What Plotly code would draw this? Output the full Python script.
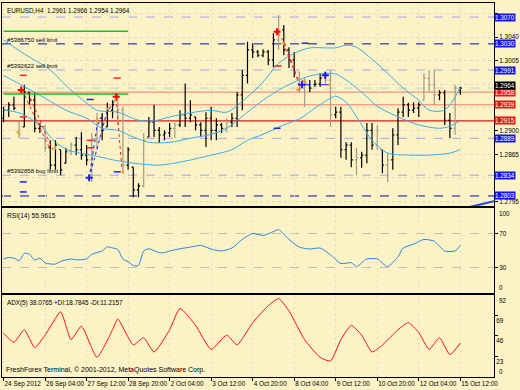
import plotly.graph_objects as go

# ---------------- data ----------------
chart_title = "EURUSD,H4  1.2961 1.2966 1.2954 1.2964"
copyright_text = "FreshForex Terminal, \u00a9 2001-2012, MetaQuotes Software Corp."

bar_index = list(range(89))
bar_open = [1.2919, 1.2931, 1.2939, 1.2913, 1.2906, 1.2958, 1.2946, 1.2904, 1.2907, 1.2875,
            1.2849, 1.2872, 1.2852, 1.2869, 1.2879, 1.2872, 1.2864, 1.2857, 1.2886, 1.2919,
            1.2906, 1.2931, 1.2939, 1.2931, 1.2849, 1.2846, 1.2812, 1.2818, 1.2891, 1.2913,
            1.2901, 1.2894, 1.2897, 1.2904, 1.2909, 1.2924, 1.2919, 1.2921, 1.2909, 1.2901,
            1.2919, 1.2901, 1.2909, 1.2904, 1.2913, 1.2919, 1.2954, 1.2983, 1.3021, 1.3018,
            1.3013, 1.3018, 1.3006, 1.3036, 1.3051, 1.3021, 1.3006, 1.2988, 1.2964, 1.2969,
            1.2969, 1.2970, 1.2979, 1.2976, 1.2924, 1.2928, 1.2872, 1.2879, 1.2857, 1.2860,
            1.2864, 1.2901, 1.2879, 1.2872, 1.2849, 1.2857, 1.2894, 1.2928, 1.2939, 1.2931,
            1.2934, 1.2946, 1.2979, 1.2969, 1.2954, 1.2957, 1.2916, 1.2904, 1.2961]
bar_high = [1.2936, 1.2943, 1.2951, 1.2916, 1.2969, 1.2958, 1.2958, 1.2912, 1.2909, 1.2886,
            1.2886, 1.2872, 1.2875, 1.2883, 1.2891, 1.2898, 1.2879, 1.2897, 1.2927, 1.2927,
            1.2942, 1.2946, 1.2957, 1.2936, 1.2876, 1.2846, 1.2822, 1.2897, 1.2921, 1.2939,
            1.2906, 1.2901, 1.2912, 1.2913, 1.2931, 1.2971, 1.2946, 1.2921, 1.2913, 1.2928,
            1.2936, 1.2919, 1.2912, 1.2919, 1.2927, 1.2958, 1.2991, 1.3033, 1.3031, 1.3021,
            1.3022, 1.3021, 1.3046, 1.3073, 1.3058, 1.3025, 1.3018, 1.2988, 1.2979, 1.2976,
            1.2976, 1.2986, 1.2988, 1.2991, 1.2936, 1.2936, 1.2883, 1.2883, 1.2875, 1.2869,
            1.2912, 1.2912, 1.2909, 1.2872, 1.2867, 1.2904, 1.2934, 1.2951, 1.2942, 1.2943,
            1.2943, 1.2986, 1.2991, 1.2991, 1.2961, 1.2961, 1.2927, 1.2969, 1.2966]
bar_low = [1.2913, 1.2921, 1.2931, 1.2889, 1.2906, 1.2939, 1.2898, 1.2897, 1.2869, 1.2842,
           1.2842, 1.2834, 1.2852, 1.2864, 1.2864, 1.2857, 1.2849, 1.2824, 1.2872, 1.2886,
           1.2906, 1.2919, 1.2909, 1.2837, 1.2842, 1.2801, 1.2801, 1.2816, 1.2891, 1.2891,
           1.2882, 1.2886, 1.2891, 1.2889, 1.2906, 1.2906, 1.2913, 1.2901, 1.2891, 1.2876,
           1.2886, 1.2886, 1.2897, 1.2898, 1.2906, 1.2906, 1.2931, 1.2971, 1.3009, 1.3010,
           1.3010, 1.2998, 1.2995, 1.3021, 1.3013, 1.2994, 1.2980, 1.2957, 1.2936, 1.2958,
           1.2966, 1.2966, 1.2971, 1.2906, 1.2919, 1.2860, 1.2857, 1.2846, 1.2834, 1.2845,
           1.2852, 1.2872, 1.2872, 1.2837, 1.2824, 1.2842, 1.2879, 1.2921, 1.2921, 1.2927,
           1.2921, 1.2946, 1.2958, 1.2939, 1.2946, 1.2909, 1.2889, 1.2894, 1.2954]
bar_close = [1.2931, 1.2939, 1.2934, 1.2895, 1.2958, 1.2946, 1.2904, 1.2907, 1.2875, 1.2849,
             1.2879, 1.2842, 1.2869, 1.2879, 1.2872, 1.2864, 1.2857, 1.2886, 1.2919, 1.2901,
             1.2931, 1.2939, 1.2931, 1.2849, 1.2872, 1.2812, 1.2818, 1.2886, 1.2913, 1.2901,
             1.2894, 1.2897, 1.2904, 1.2909, 1.2924, 1.2919, 1.2924, 1.2909, 1.2901, 1.2919,
             1.2901, 1.2909, 1.2904, 1.2913, 1.2919, 1.2954, 1.2983, 1.3021, 1.3018, 1.3013,
             1.3018, 1.3006, 1.3036, 1.3051, 1.3021, 1.3006, 1.2988, 1.2964, 1.2969, 1.2964,
             1.2970, 1.2979, 1.2976, 1.2924, 1.2928, 1.2872, 1.2879, 1.2857, 1.2860, 1.2864,
             1.2901, 1.2879, 1.2901, 1.2849, 1.2857, 1.2894, 1.2928, 1.2939, 1.2931, 1.2934,
             1.2939, 1.2979, 1.2969, 1.2954, 1.2957, 1.2916, 1.2904, 1.2964, 1.2964]
grey_bars = [3, 8, 13, 17, 18, 22, 23, 27, 33, 43, 53, 57, 58, 62, 63, 68, 72, 74, 81, 82, 83, 87]

time_tick_bars = [0, 8, 16, 24, 32, 40, 48, 56, 64, 72, 80, 88]
time_tick_labels = ["24 Sep 2012", "26 Sep 04:00", "27 Sep 12:00", "28 Sep 20:00", "2 Oct 04:00",
                    "3 Oct 12:00", "4 Oct 20:00", "8 Oct 04:00", "9 Oct 12:00", "10 Oct 20:00",
                    "12 Oct 04:00", "15 Oct 12:00"]
price_ticks = [1.3075, 1.3040, 1.3005, 1.2970, 1.2935, 1.2900, 1.2865, 1.2830, 1.2795]
price_tick_labels = ["", "1.3040", "1.3005", "", "", "1.2900", "1.2865", "", "1.2795"]

# moving-average style lines (cyan)
ma_a_bars = [0, 4, 9, 12, 15, 18, 22, 26, 29, 32, 36, 40, 43, 47, 50, 53, 56, 59, 62, 64, 66, 68,
             71, 74, 77, 80, 82, 85, 88]
ma_a_vals = [1.3036, 1.3015, 1.2991, 1.2968, 1.2948, 1.2931, 1.2928, 1.2916, 1.2915, 1.2921,
             1.2927, 1.2931, 1.2928, 1.2951, 1.2973, 1.3001, 1.3016, 1.3024, 1.3024, 1.3024,
             1.3028, 1.3025, 1.3007, 1.2986, 1.2964, 1.2946, 1.2931, 1.2931, 1.2964]
ma_b_bars = [0, 4, 8, 12, 16, 19, 22, 25, 28, 32, 36, 40, 43, 47, 50, 53, 56, 59, 62, 64, 66, 69,
             72, 76, 80, 84, 86, 88]
ma_b_vals = [1.2983, 1.2966, 1.2949, 1.2931, 1.2919, 1.2904, 1.2901, 1.2891, 1.2883, 1.2883,
             1.2889, 1.2895, 1.2904, 1.2928, 1.2946, 1.2961, 1.2973, 1.2982, 1.2986, 1.2985,
             1.2976, 1.2958, 1.2937, 1.2921, 1.2909, 1.2904, 1.2907, 1.2915]
ma_c_bars = [0, 3, 7, 10, 13, 17, 21, 25, 30, 35, 40, 44, 47, 50, 54, 57, 60, 63, 64, 66, 69, 71,
             74, 78, 82, 86, 88]
ma_c_vals = [1.2931, 1.2927, 1.2909, 1.2883, 1.2870, 1.2864, 1.2857, 1.2852, 1.2849, 1.2855,
             1.2864, 1.2872, 1.2886, 1.2895, 1.2909, 1.2918, 1.2934, 1.2949, 1.2952, 1.2943,
             1.2909, 1.2886, 1.2867, 1.2864, 1.2864, 1.2867, 1.2872]

# order / level lines
lavender_levels = [1.3070, 1.2991, 1.2889, 1.2834]
navy_levels = [1.3030, 1.2803]
salmon_levels = [1.2958, 1.2939]
red_levels = [1.2915]
bid_level = 1.2964
green_levels = [1.3049, 1.2955]
green_span = [0, 24]
blue_box_levels = [1.3070, 1.3030, 1.2991, 1.2889, 1.2834, 1.2803]
red_box_levels = [1.2958, 1.2939, 1.2915]
order_labels = ["#5386750 sell limit", "#5392622 sell limit", "#5392858 buy limit"]
order_label_levels = [1.3030, 1.2991, 1.2834]

trend_x = [88.9, 94.5]
trend_y = [1.2785, 1.2795]

# trade arrows
sell_path_x = [3.6, 9.0, None, 4.7, 9.5, None, 21.7, 22.8, None, 52.9, 54.2, 55.2, 56.5, 57.1, None,
               53.9, 56.5, 58.5]
sell_path_y = [1.2961, 1.2872, None, 1.2957, 1.2872, None, 1.2949, 1.2842, None, 1.3046, 1.3031,
               1.3010, 1.2980, 1.2961, None, 1.3031, 1.2980, 1.2971]
buy_path_x = [16.5, 18.0, 19.0, None, 16.5, 19.9, 21.5]
buy_path_y = [1.2830, 1.2906, 1.2924, None, 1.2830, 1.2928, 1.2946]
buy_dash_x = [57.5, 63.0]
buy_dash_y = [1.2969, 1.2969]
sell_mark_x = [3.4, 21.7, 52.7]
sell_mark_y = [1.2961, 1.2951, 1.3048]
buy_mark_x = [16.5, 57.5, 62.0]
buy_mark_y = [1.2830, 1.2969, 1.2983]
close_mark_x = [2.8, 9.9, 18.0, 20.1, 21.5, 23.0, 53.9, 56.7, 58.1, 62.9]
close_mark_y = [1.2898, 1.2875, 1.2916, 1.2933, 1.2946, 1.2839, 1.3031, 1.2961, 1.2973, 1.2969]
red_dash_x = [3.8, 21.9, 16.7, 16.7, 3.8, 52.9]
red_dash_y = [1.2983, 1.2979, 1.2886, 1.2875, 1.2921, 1.2997]
blue_dash_x = [16.7, 3.8, 3.8, 58.1, 52.7, 21.9]
blue_dash_y = [1.2947, 1.2824, 1.2809, 1.3031, 1.2904, 1.2839]

# RSI(14)
rsi_label = "RSI(14) 55.9615"
rsi_bars = [0, 1, 2, 3, 4, 5, 6, 7, 8, 9, 10, 11, 13, 14, 16, 17, 19, 20, 21, 22, 23, 24, 25, 26,
            27, 28, 30, 31, 32, 34, 36, 38, 40, 42, 44, 46, 48, 50, 52, 53, 55, 57, 59, 61, 63,
            65, 67, 68, 70, 72, 74, 76, 77, 79, 81, 83, 85, 87, 88]
rsi_vals = [40, 41.8, 41, 38, 46.8, 45.6, 38.8, 41, 35.3, 34.2, 34, 37.2, 40, 39, 40, 45.6, 49.4,
            54.3, 53, 51.4, 40, 36.9, 32.3, 32.3, 49.4, 52, 47.5, 47.5, 49.4, 52, 54, 56, 51.7,
            49.4, 52.9, 63, 70, 67.7, 72.3, 74.6, 63, 54, 51.7, 52.9, 44.9, 34.6, 35.7, 31, 40,
            40, 31, 42.6, 52.9, 57.4, 63, 60.9, 49.4, 49.4, 55.96]
rsi_levels = [70, 30]

# ADX(5)
adx_label = "ADX(5) 38.0765 +DI:18.7845 -DI:11.2157"
adx_bars = [0, 2, 4, 6, 8, 11, 13, 15, 18, 21, 22, 25, 27, 29, 32, 34, 37, 40, 43, 45, 48, 51, 53,
            55, 58, 61, 63, 65, 67, 69, 71, 73, 76, 78, 80, 82, 84, 86, 88]
adx_vals = [49, 39, 53, 33, 47, 73, 42, 57, 22, 53, 65, 36, 44, 28, 53, 77, 58, 31, 47, 36, 61, 80,
            88, 74, 42, 22, 18, 42, 58, 47, 28, 36, 53, 61, 50, 31, 44, 25, 38.08]
adx_ticks = [23, 46, 69]

# ---------------- styling ----------------
BG = "#fbf3c6"
FONT = "Liberation Sans, Arial, sans-serif"
CYAN = "#3aaee8"

fig = go.Figure()

black_idx = [i for i in bar_index if i not in grey_bars]


def pick(arr, idx):
    return [arr[i] for i in idx]


for idx, col in ((black_idx, "#000000"), (grey_bars, "#a09c86")):
    fig.add_trace(go.Ohlc(
        x=idx, open=pick(bar_open, idx), high=pick(bar_high, idx),
        low=pick(bar_low, idx), close=pick(bar_close, idx),
        increasing=dict(line=dict(color=col, width=1.2)),
        decreasing=dict(line=dict(color=col, width=1.2)),
        tickwidth=0.32, xaxis="x", yaxis="y", hoverinfo="skip", showlegend=False))

for bx, by in ((ma_a_bars, ma_a_vals), (ma_b_bars, ma_b_vals), (ma_c_bars, ma_c_vals)):
    fig.add_trace(go.Scatter(x=bx, y=by, mode="lines",
                             line=dict(color=CYAN, width=1, shape="spline", smoothing=0.8),
                             xaxis="x", yaxis="y", hoverinfo="skip", showlegend=False))

for lvl in green_levels:
    fig.add_trace(go.Scatter(x=green_span, y=[lvl, lvl], mode="lines", line=dict(color="#22bb22", width=1.5),
                             xaxis="x", yaxis="y", hoverinfo="skip", showlegend=False))

fig.add_trace(go.Scatter(x=sell_path_x, y=sell_path_y, mode="lines", line=dict(color="#ff2020", width=1, dash="dot"),
                         xaxis="x", yaxis="y", hoverinfo="skip", showlegend=False))
fig.add_trace(go.Scatter(x=buy_path_x, y=buy_path_y, mode="lines", line=dict(color="#1a1aee", width=1, dash="dot"),
                         xaxis="x", yaxis="y", hoverinfo="skip", showlegend=False))
fig.add_trace(go.Scatter(x=buy_dash_x, y=buy_dash_y, mode="lines", line=dict(color="#1a1aee", width=1, dash="dash"),
                         xaxis="x", yaxis="y", hoverinfo="skip", showlegend=False))
fig.add_trace(go.Scatter(x=trend_x, y=trend_y, mode="lines", line=dict(color="#2244dd", width=2),
                         xaxis="x", yaxis="y", hoverinfo="skip", showlegend=False))
fig.add_trace(go.Scatter(x=sell_mark_x, y=sell_mark_y, mode="markers",
                         marker=dict(symbol="cross-thin", size=5, line=dict(color="#ff0000", width=2)),
                         xaxis="x", yaxis="y", hoverinfo="skip", showlegend=False))
fig.add_trace(go.Scatter(x=buy_mark_x, y=buy_mark_y, mode="markers",
                         marker=dict(symbol="cross-thin", size=5, line=dict(color="#1a1aee", width=2)),
                         xaxis="x", yaxis="y", hoverinfo="skip", showlegend=False))
fig.add_trace(go.Scatter(x=close_mark_x, y=close_mark_y, mode="markers",
                         marker=dict(symbol="triangle-left", size=4, color="#e8a020"),
                         xaxis="x", yaxis="y", hoverinfo="skip", showlegend=False))
fig.add_trace(go.Scatter(x=red_dash_x, y=red_dash_y, mode="markers",
                         marker=dict(symbol="line-ew", size=5, line=dict(color="#ff2020", width=1.5)),
                         xaxis="x", yaxis="y", hoverinfo="skip", showlegend=False))
fig.add_trace(go.Scatter(x=blue_dash_x, y=blue_dash_y, mode="markers",
                         marker=dict(symbol="line-ew", size=5, line=dict(color="#2020ee", width=1.5)),
                         xaxis="x", yaxis="y", hoverinfo="skip", showlegend=False))

fig.add_trace(go.Scatter(x=rsi_bars, y=rsi_vals, mode="lines",
                         line=dict(color="#2a86e0", width=1, shape="spline", smoothing=0.6),
                         xaxis="x2", yaxis="y2", hoverinfo="skip", showlegend=False))
fig.add_trace(go.Scatter(x=adx_bars, y=adx_vals, mode="lines",
                         line=dict(color="#ff1010", width=1, shape="spline", smoothing=0.5),
                         xaxis="x3", yaxis="y3", hoverinfo="skip", showlegend=False))

shapes = []
for lvl in lavender_levels:
    shapes.append(dict(type="line", xref="x domain", yref="y", x0=0, x1=1, y0=lvl, y1=lvl,
                       line=dict(color="#a4a4f0", width=1, dash="dash"), layer="below"))
for lvl in navy_levels:
    shapes.append(dict(type="line", xref="x domain", yref="y", x0=0, x1=1, y0=lvl, y1=lvl,
                       line=dict(color="#0a0aa0", width=1, dash="dash"), layer="below"))
for lvl in salmon_levels:
    shapes.append(dict(type="line", xref="x domain", yref="y", x0=0, x1=1, y0=lvl, y1=lvl,
                       line=dict(color="#f47a68", width=1), layer="below"))
for lvl in red_levels:
    shapes.append(dict(type="line", xref="x domain", yref="y", x0=0, x1=1, y0=lvl, y1=lvl,
                       line=dict(color="#dd1a1a", width=1.2), layer="below"))
shapes.append(dict(type="line", xref="x domain", yref="y", x0=0, x1=1, y0=bid_level, y1=bid_level,
                   line=dict(color="#c8c8c8", width=1, dash="dash"), layer="below"))
for lvl in rsi_levels:
    shapes.append(dict(type="line", xref="x2 domain", yref="y2", x0=0, x1=1, y0=lvl, y1=lvl,
                       line=dict(color="#c4c0b0", width=1, dash="dash"), layer="below"))

ann = []
small = dict(family=FONT, size=6.3, color="#000000")
tickf = dict(family=FONT, size=6.4, color="#000000")
copyf = dict(family=FONT, size=7, color="#000000")
box_font = dict(family=FONT, size=6.3, color="#ffffff")
ann.append(dict(text=chart_title, xref="paper", yref="paper", x=0, y=1, xanchor="left", yanchor="top",
                xshift=3, yshift=-2, showarrow=False, font=small))
for txt, lvl in zip(order_labels, order_label_levels):
    ann.append(dict(text=txt, xref="paper", yref="y", x=0, y=lvl, xanchor="left", yanchor="bottom",
                    xshift=3, yshift=-1, showarrow=False, font=dict(family=FONT, size=6.1, color="#000000")))
for lvl in blue_box_levels:
    ann.append(dict(text=f"{lvl:.4f}", xref="paper", yref="y", x=1, y=lvl, xanchor="left", yanchor="middle",
                    xshift=0, showarrow=False, bgcolor="#1414e6", borderpad=0, font=box_font))
for lvl in red_box_levels:
    ann.append(dict(text=f"{lvl:.4f}", xref="paper", yref="y", x=1, y=lvl, xanchor="left", yanchor="middle",
                    xshift=0, showarrow=False, bgcolor="#f01010", borderpad=0, font=box_font))
ann.append(dict(text=f"{bid_level:.4f}", xref="paper", yref="y", x=1, y=bid_level, xanchor="left",
                yanchor="middle", xshift=0, yshift=3, showarrow=False, bgcolor="#000000", borderpad=0,
                font=box_font))
ann.append(dict(text=rsi_label, xref="paper", yref="y2 domain", x=0, y=1, xanchor="left", yanchor="top",
                xshift=3, yshift=-2, showarrow=False, font=dict(family=FONT, size=6.6, color="#000000")))
ann.append(dict(text="100", xref="paper", yref="y2", x=1, y=100, xanchor="left", yanchor="top",
                xshift=3, showarrow=False, font=tickf))
ann.append(dict(text="0", xref="paper", yref="y2", x=1, y=0, xanchor="left", yanchor="bottom",
                xshift=3, showarrow=False, font=tickf))
ann.append(dict(text=adx_label, xref="paper", yref="y3 domain", x=0, y=1, xanchor="left", yanchor="top",
                xshift=3, yshift=-2, showarrow=False, font=small))
ann.append(dict(text="92", xref="paper", yref="y3", x=1, y=92, xanchor="left", yanchor="top",
                xshift=3, showarrow=False, font=tickf))
ann.append(dict(text="0", xref="paper", yref="y3", x=1, y=0, xanchor="left", yanchor="bottom",
                xshift=3, showarrow=False, font=tickf))
ann.append(dict(text=copyright_text, xref="paper", yref="paper", x=0, y=0, xanchor="left", yanchor="bottom",
                xshift=2, yshift=1, showarrow=False, font=copyf))

xrange = [-0.3, 94.5]
xcommon = dict(range=xrange, tickvals=time_tick_bars, showline=True, mirror=True, linecolor="#000000",
               linewidth=1, showgrid=True, gridcolor="#e8e0bc", griddash="dot", zeroline=False,
               fixedrange=True, automargin=False)
ycommon = dict(side="right", showline=True, mirror=True, linecolor="#000000", linewidth=1,
               ticks="outside", ticklen=3, tickcolor="#000000", tickfont=tickf, zeroline=False,
               fixedrange=True, automargin=False)

fig.update_layout(
    width=520, height=390,
    margin=dict(l=2, r=26, t=3, b=13),
    paper_bgcolor=BG, plot_bgcolor=BG,
    showlegend=False,
    font=dict(family=FONT, size=7, color="#000000"),
    xaxis=dict(**xcommon, anchor="y", showticklabels=False, rangeslider=dict(visible=False)),
    xaxis2=dict(**xcommon, anchor="y2", matches="x", showticklabels=False),
    xaxis3=dict(**xcommon, anchor="y3", matches="x", ticktext=time_tick_labels, ticks="outside",
                ticklen=3, tickcolor="#000000", tickfont=tickf, ticklabelposition="outside right",
                tickangle=0),
    yaxis=dict(**ycommon, domain=[0.4572, 1.0], range=[1.2788, 1.3091], tickvals=price_ticks,
               ticktext=price_tick_labels, showgrid=True, gridcolor="#e4dcc0", griddash="dot"),
    yaxis2=dict(**ycommon, domain=[0.2246, 0.4519], range=[0, 100], tickvals=rsi_levels, showgrid=False),
    yaxis3=dict(**ycommon, domain=[0.0, 0.2193], range=[0, 92], tickvals=adx_ticks, showgrid=False,
                ticklabelposition="outside bottom"),
    shapes=shapes,
    annotations=ann,
)

fig.write_html("out.html", config={"displayModeBar": False},
               post_script="document.body.style.margin='0px';document.body.style.background='" + BG + "';")
